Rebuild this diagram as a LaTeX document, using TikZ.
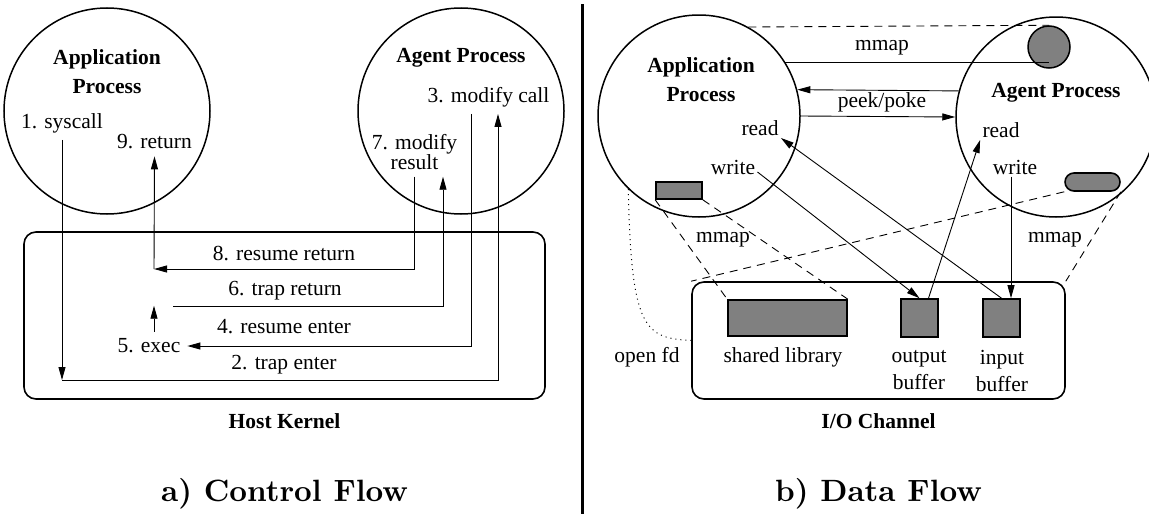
\documentclass[tikz,border=0pt]{standalone}
\usepackage{fontspec}
\newfontfamily\tnr{Liberation Serif}
\newfontfamily\capfont{lmroman10-bold.otf}
\usetikzlibrary{shapes, arrows.meta, calc, positioning}
\tikzstyle{proc} = [circle, draw, line width=0.75pt, inner sep=0pt]
\tikzstyle{lbl} = [font=\tnr\fontsize{10.75}{13}\selectfont]
\tikzstyle{ptitle} = [font=\tnr\bfseries\fontsize{10.75}{13}\selectfont]
\tikzstyle{kbox} = [rectangle, draw, line width=0.8pt, rounded corners=6pt]
\tikzstyle{buf} = [rectangle, draw, fill=gray, line width=0.8pt]
\tikzstyle{line} = [draw, line width=0.45pt, -{Triangle[length=6.5pt,width=3.5pt]}]
\tikzstyle{plain} = [draw, line width=0.45pt]
\tikzstyle{dline} = [draw, line width=0.45pt, dash pattern=on 4pt off 3pt]
\tikzstyle{caption} = [font=\capfont\fontsize{15.4}{18}\selectfont]

\begin{document}
\begin{tikzpicture}[x=0.5pt, y=-0.5pt]
        \useasboundingbox (0,0) rectangle (1149,514);

        \node[proc, minimum size=103pt] (app) at (107,111) {};
        \node[ptitle, align=center] (apptitle) at (107,72) {Application\\[1.5pt]Process};
        \node[proc, minimum size=103pt] (agent) at (461,111) {};
        \node[ptitle] (agenttitle) at (461,58) {Agent Process};
        \node[kbox, minimum width=260.5pt, minimum height=83.5pt] (kernel) at (284.5,315.5) {};
        \node[ptitle, below=3.5pt of kernel] (kerneltitle) {Host Kernel};

        \node[lbl] (syscall) at (62,123) {1. syscall};
        \node[lbl] (ret) at (154.5,142) {9. return};
        \node[lbl] (modcall) at (488.5,97) {3. modify call};
        \node[lbl, align=center] (modres) at (414.5,152) {7. modify\\[-3pt]result};
        \node[lbl] (exec) at (149,346) {5. exec};

        \node[lbl] (resret) at (284,253) {8. resume return};
        \node[lbl] (trapret) at (285,291) {6. trap return};
        \node[lbl] (resent) at (284,327) {4. resume enter};
        \node[lbl] (trapent) at (284,365) {2. trap enter};

        \coordinate (c2) at (62,380);
        \coordinate (c8) at (154,269);
        \coordinate (c6) at (173,306);

        \path[line] (syscall.south) -- (c2);
        \path[line] (c2) -| ([xshift=4.75pt]modcall.south);
        \path[line] ([xshift=-8.75pt]modcall.south) |- (exec.east);
        \path[line] ([xshift=2.5pt]exec.north) -- ++(0,-26);
        \path[line] (c6) -| ([xshift=14.25pt]modres.south);
        \path[line] (modres.south) |- (c8);
        \path[line] (c8) -- (ret.south);

        \coordinate (divtop) at (582,4);
        \coordinate (divbot) at (582,514);
        \draw[line width=1.5pt] (divtop) -- (divbot);

        \node[proc, minimum size=101pt] (app2) at (699,116) {};
        \node[ptitle, align=center] (app2title) at (701,80) {Application\\[1.5pt]Process};
        \node[proc, minimum size=100pt] (agent2) at (1056,117) {};
        \node[ptitle] (agent2title) at (1056,93) {Agent Process};
        \node[proc, fill=gray, minimum size=21pt] (shm) at (1049,47) {};
        \node[buf, minimum width=23pt, minimum height=8.5pt] (apprect) at (679,190.5) {};
        \node[buf, rounded corners=4.5pt, minimum width=27.5pt, minimum height=9pt] (pill) at (1092.5,182) {};
        \node[kbox, minimum width=186.5pt, minimum height=58.5pt] (io) at (878.5,340.5) {};
        \node[ptitle, below=3.5pt of io] (iotitle) {I/O Channel};
        \node[buf, minimum width=59.5pt, minimum height=18pt] (shlib) at (787.5,318) {};
        \node[buf, minimum width=18.5pt, minimum height=19pt] (outbuf) at (919.5,318) {};
        \node[buf, minimum width=18.5pt, minimum height=19pt] (inbuf) at (1001.5,318) {};

        \node[lbl] (shlibtext) at (783,357) {shared library};
        \node[lbl, align=center] (outtext) at (919,370.5) {output\\[0.5pt]buffer};
        \node[lbl, align=center] (intext) at (1002,370.5) {input\\[0.5pt]buffer};
        \node[lbl] (openfd) at (647,357) {open fd};
        \node[lbl, inner sep=1pt] (appread) at (760,128) {read};
        \node[lbl, inner sep=1pt] (appwrite) at (733,167) {write};
        \node[lbl, inner sep=1pt] (agentread) at (1001,130) {read};
        \node[lbl, inner sep=1pt] (agentwrite) at (1015,167) {write};
        \node[lbl] (mmaptop) at (882,48) {mmap};
        \node[lbl] (peek) at (882,102) {peek/poke};
        \node[lbl] (mmapleft) at (723,240) {mmap};
        \node[lbl] (mmapright) at (1055,240) {mmap};

        \path[dline] (app2.61) -- (shm.north);
        \path[plain] (app2.32) -- (app2.32 -| shm.center);
        \path[line] (agent2.165) -- (app2.15);
        \path[line] (app2.east) -- (agent2.west);
        \path[line] ([yshift=-2.5pt]appwrite.east) -- (outbuf.north);
        \path[line] ([xshift=4.5pt]outbuf.north) -- (agentread.south west);
        \path[line] (inbuf.north) -- (appread.south east);
        \path[line] ([xshift=-2pt]agentwrite.south) -- ([xshift=-2pt]agentwrite.south |- inbuf.north);

        \path[dline] (apprect.south west) -- (shlib.north west);
        \path[dline] (apprect.south east) -- (shlib.north east);
        \path[dline] (pill.south west) -- (io.north west);
        \path[dline] (pill.south east) -- (io.north east);
        \path[draw, dotted, line width=0.5pt] (app2.226) .. controls (631,330) and (645,338) .. (io.west);

        \node[caption] (capa) at (284.5,494) {a) Control Flow};
        \node[caption] (capb) at (878.5,494) {b) Data Flow};
    \end{tikzpicture}
\end{document}
